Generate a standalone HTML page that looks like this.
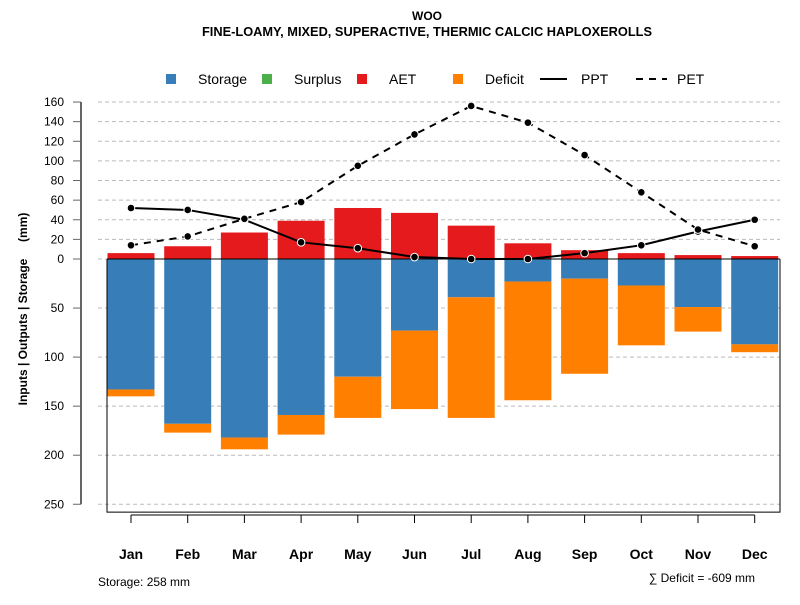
<!DOCTYPE html>
<html><head><meta charset="utf-8"><style>
body{margin:0;background:#fff}
svg text{font-family:"Liberation Sans",sans-serif}
</style></head><body>
<svg id="c" width="800" height="600" xmlns="http://www.w3.org/2000/svg">
<text x="427" y="20" text-anchor="middle" font-size="12" font-weight="bold">WOO</text>
<text x="427" y="36" text-anchor="middle" font-size="12.8" font-weight="bold">FINE-LOAMY, MIXED, SUPERACTIVE, THERMIC CALCIC HAPLOXEROLLS</text>
<g font-size="14">
<rect x="166" y="74" width="10" height="10" fill="#377eb8"/>
<text x="198" y="84">Storage</text>
<rect x="262" y="74" width="10" height="10" fill="#4daf4a"/>
<text x="294" y="84">Surplus</text>
<rect x="357" y="74" width="10" height="10" fill="#e41a1c"/>
<text x="389" y="84">AET</text>
<rect x="453" y="74" width="10" height="10" fill="#ff7f00"/>
<text x="485" y="84">Deficit</text>
<line x1="540" y1="79" x2="567" y2="79" stroke="#000" stroke-width="2"/>
<text x="581" y="84">PPT</text>
<line x1="636" y1="79" x2="667" y2="79" stroke="#000" stroke-width="2" stroke-dasharray="7,6"/>
<text x="677" y="84">PET</text>
</g>
<text transform="translate(27,309) rotate(-90)" text-anchor="middle" font-size="12" font-weight="bold" style="white-space:pre">Inputs | Outputs | Storage     (mm)</text>
<g id="grid"></g><g id="bars"></g><g id="lines"></g><g id="axes"></g>
<text x="98" y="586" font-size="12">Storage: 258 mm</text>
<text x="755" y="582" text-anchor="end" font-size="12">∑ Deficit = -609 mm</text>
</svg>
<script>
const months=["Jan","Feb","Mar","Apr","May","Jun","Jul","Aug","Sep","Oct","Nov","Dec"];
const aet=[6,13,27,39,52,47,34,16,9,6,4,3];
const storage=[133,168,182,159,120,73,39,23,20,27,49,87];
const deficit=[7,9,12,20,42,80,123,121,97,61,25,8];
const ppt=[52,50,40,17,11,2,0,0,6,14,28,40];
const pet=[14,23,41,58,95,127,156,139,106,68,30,13];
const upTicks=[0,20,40,60,80,100,120,140,160];
const downTicks=[50,100,150,200,250];
const totalStorage=258;
const NS="http://www.w3.org/2000/svg";
const y0=259,k=0.981;
const yUp=v=>y0-v*k, yDown=v=>y0+v*k;
const x=i=>131+i*56.7;
const bw=47;
function mk(p,t,a){const e=document.createElementNS(NS,t);for(const n in a)e.setAttribute(n,a[n]);document.getElementById(p).appendChild(e);return e;}
upTicks.forEach(v=>{
 const e=mk("grid","line",{x1:98,x2:780,y1:yUp(v),y2:yUp(v),stroke:"#bbb","stroke-dasharray":"4,3"});
 
 
 const t=mk("axes","line",{x1:73,x2:81,y1:yUp(v),y2:yUp(v),stroke:"#666"});
 
 
 const l=mk("axes","text",{x:64,y:yUp(v)+4,"text-anchor":"end","font-size":"12"});l.textContent=v;
 
 
});
downTicks.forEach(v=>{
 const e=mk("grid","line",{x1:98,x2:780,y1:yDown(v),y2:yDown(v),stroke:"#bbb","stroke-dasharray":"4,3"});
 
 
 const t=mk("axes","line",{x1:73,x2:81,y1:yDown(v),y2:yDown(v),stroke:"#666"});
 
 
 const l=mk("axes","text",{x:64,y:yDown(v)+4,"text-anchor":"end","font-size":"12"});l.textContent=v;
 
 
});
const ya=mk("axes","line",{x1:81,x2:81,y1:yUp(160),y2:yDown(250),stroke:"#666","stroke-width":2});


months.forEach((m,i)=>{
 const cx=x(i);
 const a=mk("bars","rect",{x:cx-bw/2,y:yUp(aet[i]),width:bw,height:aet[i]*k,fill:"#e41a1c"});
 
 
 const s=mk("bars","rect",{x:cx-bw/2,y:y0,width:bw,height:storage[i]*k,fill:"#377eb8"});
 
 
 const d=mk("bars","rect",{x:cx-bw/2,y:yDown(storage[i]),width:bw,height:deficit[i]*k,fill:"#ff7f00"});
 
 
 const t=mk("axes","line",{x1:cx,x2:cx,y1:515,y2:523,stroke:"#000"});
 
 
 const l=mk("axes","text",{x:cx,y:559,"text-anchor":"middle","font-size":"14","font-weight":"bold"});l.textContent=m;
 
 
});
const xa=mk("axes","line",{x1:x(0),x2:x(11),y1:515,y2:515,stroke:"#000"});


const box=mk("bars","path",{d:`M107 ${y0} V${yDown(totalStorage)} H780 V${y0}`,fill:"none",stroke:"#000"});


const zl=mk("bars","line",{x1:107,x2:780,y1:y0,y2:y0,stroke:"#000"});


[[ppt,"ppt",null],[pet,"pet","7,6"]].forEach(([arr,n,da])=>{
 const p=mk("lines","polyline",{points:arr.map((v,i)=>x(i)+","+yUp(v)).join(" "),fill:"none",stroke:"#000","stroke-width":2});
 if(da)p.setAttribute("stroke-dasharray",da);
 
 
 arr.forEach((v,i)=>{
  const c=mk("lines","circle",{cx:x(i),cy:yUp(v),r:3.8,fill:"#000",stroke:"#fff","stroke-width":1});
  
  
 });
});
</script>
</body></html>
